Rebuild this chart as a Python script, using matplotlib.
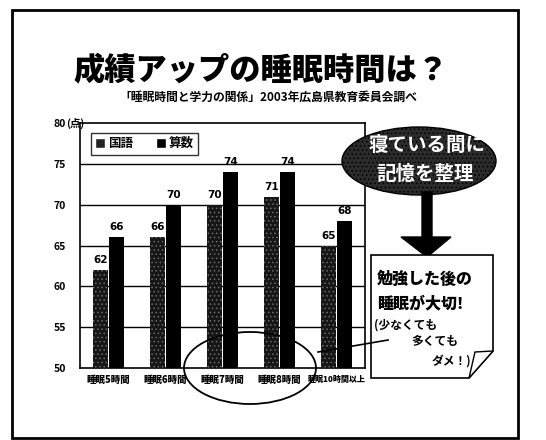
import matplotlib
matplotlib.use("Agg")
import matplotlib.pyplot as plt
from matplotlib.patches import Ellipse, Polygon, Rectangle
from matplotlib.lines import Line2D
import numpy as np

plt.rcParams['font.family'] = ['Noto Sans CJK JP', 'DejaVu Sans']

categories = ['睡眠5時間', '睡眠6時間', '睡眠7時間', '睡眠8時間', '睡眠10時間以上']
kokugo = [62, 66, 70, 71, 65]
sansu = [66, 70, 74, 74, 68]
series_names = ['国語', '算数']
yticks = [50, 55, 60, 65, 70, 75, 80]
title = '成績アップの睡眠時間は？'
subtitle = '「睡眠時間と学力の関係」2003年広島県教育委員会調べ'

W, H = 546, 440
fig = plt.figure(figsize=(W / 100, H / 100), dpi=100)
fig.patch.set_facecolor('white')

ax = fig.add_axes([80 / W, 1 - 368 / H, 285 / W, 245 / H])
x = np.arange(len(categories))
bw = 0.27
plt.rcParams['hatch.color'] = '#777777'
plt.rcParams['hatch.linewidth'] = 0.6
b1 = ax.bar(x - 0.14, kokugo, bw, color='#161616', hatch='....', edgecolor='#6a6a6a', linewidth=0, zorder=3, label=series_names[0])
b2 = ax.bar(x + 0.14, sansu, bw, color='black', linewidth=0, zorder=3, label=series_names[1])
ax.set_ylim(50, 80)
ax.set_xlim(-0.5, 4.5)
ax.set_yticks(yticks)
ax.set_yticklabels([str(v) for v in yticks], fontsize=7.5, fontweight='bold')
ax.tick_params(axis='y', length=0, pad=10)
ax.set_xticks(x)
ax.set_xticklabels(categories, fontsize=6.8, fontweight='black')
for lab in ax.get_xticklabels()[-1:]:
    lab.set_fontsize(5.8)
ax.tick_params(axis='x', length=0, pad=5)
for yv in yticks[1:-1]:
    ax.axhline(yv, color='black', lw=1, zorder=1)
for s in ax.spines.values():
    s.set_linewidth(1.2)
ax.text(-0.048, 80, '(点)', transform=ax.get_yaxis_transform(), fontsize=7.5,
        fontweight='bold', ha='left', va='center', clip_on=False)

for rect, v in zip(b1, kokugo):
    ax.text(rect.get_x() + rect.get_width() / 2, v + 0.6, str(v), ha='center', va='bottom',
            fontsize=7.5, fontweight='bold', zorder=4, family='DejaVu Sans')
for rect, v in zip(b2, sansu):
    ax.text(rect.get_x() + rect.get_width() / 2, v + 0.6, str(v), ha='center', va='bottom',
            fontsize=7.5, fontweight='bold', zorder=4, family='DejaVu Sans')

leg = ax.legend(handles=[Line2D([], [], marker='s', color='w', markerfacecolor='#222', markersize=6.5, label=series_names[0]),
                         Line2D([], [], marker='s', color='w', markerfacecolor='black', markersize=6.5, label=series_names[1])],
                loc='upper left', bbox_to_anchor=(0.038, 0.96), ncol=2, frameon=True, fancybox=False,
                edgecolor='black', prop={'size': 9, 'weight': 'bold'}, handlelength=0.8,
                handletextpad=0.25, columnspacing=1.8, borderpad=0.35, borderaxespad=0)
leg.get_frame().set_linewidth(1.0)

# overlay in pixel coordinates
ov = fig.add_axes([0, 0, 1, 1], zorder=10)
ov.set_xlim(0, W)
ov.set_ylim(H, 0)
ov.axis('off')
ov.patch.set_alpha(0)

ov.add_patch(Rectangle((12, 10), 506, 428, fill=False, lw=2, ec='black'))
ov.text(261, 70, title, fontsize=22.5, fontweight='black', ha='center', va='center')
ov.text(268, 97, subtitle, fontsize=8.5, fontweight='bold', ha='center', va='center')

# dark ellipse callout
ov.add_patch(Ellipse((419, 161), 154, 68, facecolor='#2b2b2b', edgecolor='black', lw=1, hatch='....'))
ov.text(427, 145, '寝ている間に', color='white', fontsize=14, fontweight='bold', ha='center', va='center')
ov.text(425, 175, '記憶を整理', color='white', fontsize=14, fontweight='bold', ha='center', va='center')
# down arrow
ov.add_patch(Polygon([(422, 192), (432, 192), (432, 237), (451, 237), (427, 257), (401, 237), (422, 237)],
                     closed=True, facecolor='black', edgecolor='black'))

# note box with curled corner
ov.add_patch(Polygon([(371, 255), (493, 255), (493, 351), (469, 378), (371, 378)], closed=True,
                     facecolor='white', edgecolor='black', lw=1.2))
ov.add_patch(Polygon([(469, 378), (475, 352), (493, 351)], closed=True, facecolor='white', edgecolor='black', lw=1))
ov.text(377, 279, '勉強した後の', fontsize=11.5, fontweight='black', ha='left', va='center')
ov.text(377, 304, '睡眠が大切!', fontsize=11.5, fontweight='black', ha='left', va='center')
ov.text(374, 325, '(少なくても', fontsize=8.5, fontweight='bold', ha='left', va='center')
ov.text(411, 342, '多くても', fontsize=8.5, fontweight='bold', ha='left', va='center')
ov.text(432, 361, 'ダメ！)', fontsize=8.5, fontweight='bold', ha='left', va='center', style='italic')

# hand-drawn oval and pointer line
ov.add_patch(Ellipse((250, 368), 132, 72, fill=False, edgecolor='black', lw=1.3))
ov.add_line(Line2D([318, 388], [352, 340], color='black', lw=1.2))

fig.savefig('out.png', dpi=100)
